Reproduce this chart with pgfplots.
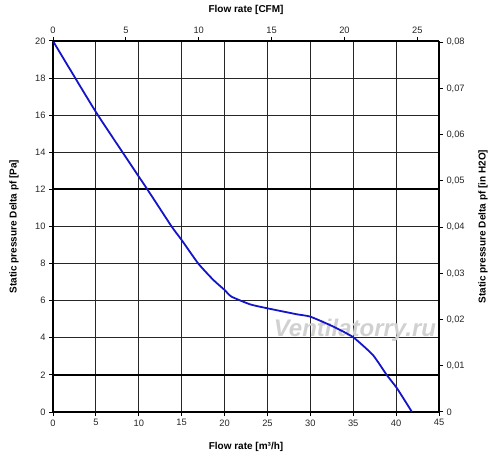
\documentclass[border=0pt]{standalone}
\usepackage{pgfplots}
\pgfplotsset{compat=1.18}
\usepackage{fontspec}
\setmainfont{Liberation Sans}
\begin{document}
\begin{tikzpicture}
\path[use as bounding box] (0,0) rectangle (500bp,460bp);
\pgfplotsset{
  every axis/.append style={
    scale only axis, width=386bp, height=371bp,
    at={(53bp,48bp)}, anchor=south west,
    tick align=outside, major tick length=4bp,
    /pgf/number format/assume math mode=true,
    tick label style={font=\fontsize{9.3bp}{10bp}\selectfont, black!85},
    label style={font=\bfseries\fontsize{10bp}{11bp}\selectfont},
    axis line style={line width=1.6bp, black},
    every tick/.style={black, line width=1bp},
  }
}
\begin{axis}[
  xmin=0, xmax=45, ymin=0, ymax=20,
  axis x line*=bottom, axis y line*=left,
  xtick={0,5,...,45}, ytick={0,2,...,20},
  grid=major,
  major grid style={black!85, line width=0.9bp},
  xlabel={Flow rate [m³/h]},
  ylabel={Static pressure Delta pf [Pa]},
  xlabel style={at={(axis description cs:0.5,-0.094)}, anchor=center},
  ylabel style={at={(axis description cs:-0.101,0.5)}, anchor=center},
  clip=false,
]
\addplot[black, line width=2.2bp, forget plot] coordinates {(0,2) (45,2)};
\addplot[black, line width=2.2bp, forget plot] coordinates {(0,12) (45,12)};
\node[font=\itshape\bfseries\fontsize{24bp}{25bp}\selectfont, text=black!18] at (axis cs:35.2,4.42) {Ventilatorry.ru};
\addplot[color={rgb,255:red,20;green,20;blue,200}, line width=1.8bp, smooth, tension=0.3] coordinates {
(0,20) (5.1,16.1) (11,12) (13.83,10) (15,9.27)
(16.94,8) (18.69,7.12) (20,6.58) (20.8,6.22) (23,5.8) (25,5.59) (28.4,5.27) (30,5.14)
(32.7,4.6) (35,4.03) (37.3,3.07) (38.9,2.0) (40.1,1.28) (41.85,0)
};
\end{axis}
\begin{axis}[
  xmin=0, xmax=26.486, ymin=0, ymax=0.08029,
  axis x line*=top, axis y line*=right,
  xtick={0,5,...,25},
  ytick={0,0.01,0.02,0.03,0.04,0.05,0.06,0.07,0.08},
  yticklabels={0,{0,01},{0,02},{0,03},{0,04},{0,05},{0,06},{0,07},{0,08}},
  scaled y ticks=false,
  xlabel={Flow rate [CFM]},
  ylabel={Static pressure Delta pf [in H2O]},
  xlabel style={at={(axis description cs:0.5,1.084)}, anchor=center},
  ylabel style={at={(axis description cs:1.114,0.5)}, anchor=center},
]
\end{axis}
\end{tikzpicture}
\end{document}
